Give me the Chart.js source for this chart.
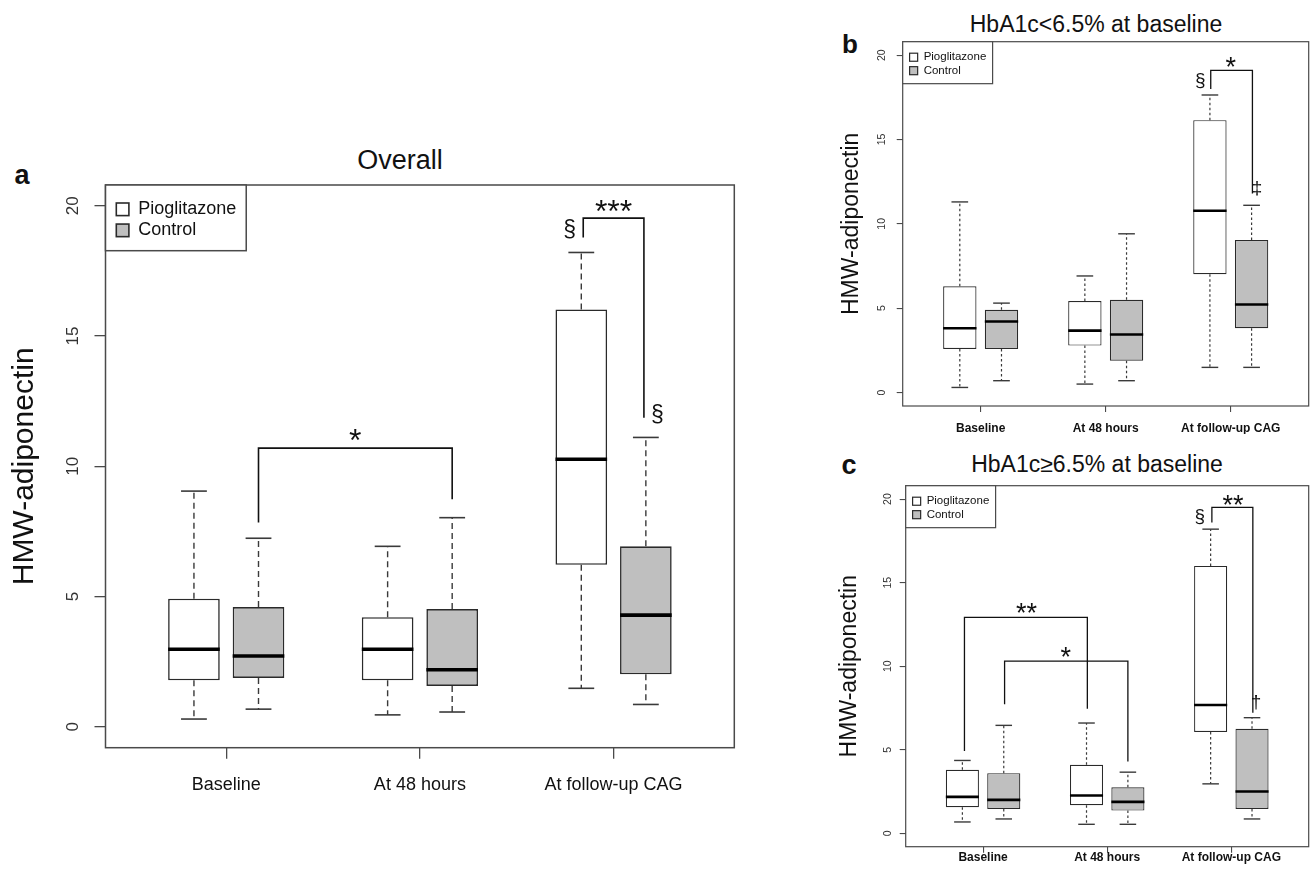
<!DOCTYPE html>
<html>
<head>
<meta charset="utf-8">
<script src="https://cdn.jsdelivr.net/npm/chart.js@4.4.1/dist/chart.umd.min.js"></script>
<style>
  html, body { margin: 0; padding: 0; background: #fff; }
  #figure { position: relative; width: 1310px; height: 877px; overflow: hidden; background: #fff;
            font-family: "Liberation Sans", Arial, Helvetica, sans-serif; color: #111; }
  #figure canvas { position: absolute; }
  .txt { position: absolute; transform: translate(-50%, -50%); line-height: 1; white-space: nowrap; }
  .letter { font-weight: bold; }
</style>
</head>
<body>
<div id="figure">
  <div class="txt letter" style="left:22px;top:175px;font-size:27px">a</div>
  <div class="txt" style="left:400px;top:160px;font-size:27px">Overall</div>
  <canvas id="panelA" width="760" height="680" style="left:0;top:130px"></canvas>

  <div class="txt letter" style="left:850px;top:44px;font-size:26px">b</div>
  <div class="txt" style="left:1096px;top:24px;font-size:23px">HbA1c&lt;6.5% at baseline</div>
  <canvas id="panelB" width="490" height="434" style="left:820px;top:0"></canvas>

  <div class="txt letter" style="left:849px;top:465px;font-size:27px">c</div>
  <div class="txt" style="left:1097px;top:464px;font-size:23px">HbA1c≥6.5% at baseline</div>
  <canvas id="panelC" width="490" height="447" style="left:820px;top:430px"></canvas>
</div>
<script>
// ----------------------------------------------------------------------------
// HMW-adiponectin box plots (overall, HbA1c<6.5 %, HbA1c>=6.5 %)
// ----------------------------------------------------------------------------
// Boxes are floating bars [Q1, Q3] on a linear x scale; whiskers, staples and
// medians come from the same five-number rows via a small inline plugin.

const FONT_FAMILY = '"Liberation Sans", Arial, Helvetica, sans-serif';
Chart.defaults.font.family = FONT_FAMILY;

const CATEGORIES = ["Baseline", "At 48 hours", "At follow-up CAG"];
const GROUP_LABELS = ["Pioglitazone", "Control"];
const PIO_POS = [1, 4, 7];
const CTRL_POS = [2, 5, 8];
const TICK_POS = [1.5, 4.5, 7.5];
const X_RANGE = [-0.37, 9.37];
const Y_RANGE = [-0.8, 20.8];
const Y_TICKS = [0, 5, 10, 15, 20];
const Y_TITLE = "HMW-adiponectin";

// five-number rows: [lower whisker, Q1, median, Q3, upper whisker]
const OVERALL_PIO = [
    [0.30, 1.79, 2.98, 4.92, 9.05],
    [0.46, 1.79, 2.98, 4.21, 6.93],
    [1.48, 6.22, 10.27, 16.02, 18.21],
];
const OVERALL_CTRL = [
    [0.68, 1.88, 2.72, 4.60, 7.24],
    [0.57, 1.57, 2.19, 4.52, 8.03],
    [0.86, 2.02, 4.29, 6.93, 11.11],
];
const LOW_PIO = [
    [0.30, 2.58, 3.81, 6.30, 11.30],
    [0.50, 2.78, 3.67, 5.42, 6.91],
    [1.49, 7.01, 10.78, 16.15, 17.64],
];
const LOW_CTRL = [
    [0.70, 2.58, 4.21, 4.91, 5.30],
    [0.70, 1.89, 3.44, 5.50, 9.41],
    [1.49, 3.81, 5.22, 9.04, 11.10],
];
const HIGH_PIO = [
    [0.68, 1.56, 2.18, 3.80, 4.36],
    [0.54, 1.68, 2.26, 4.10, 6.60],
    [2.96, 6.06, 7.68, 16.00, 18.20],
];
const HIGH_CTRL = [
    [0.86, 1.46, 2.00, 3.60, 6.46],
    [0.54, 1.36, 1.88, 2.76, 3.66],
    [0.86, 1.46, 2.50, 6.26, 6.92],
];

// significance brackets: [left x, right x, bar level, left foot, right foot, label, label x, label y]
const OVERALL_BRACKETS = [
    [2, 5, 10.7, 7.84, 8.74, "*", 3.5, 11.2],
    [7.03, 7.97, 19.53, 18.78, 11.87, "***", 7.5, 20.0],
];
const LOW_BRACKETS = [
    [7.02, 8.02, 19.1, 18.0, 11.8, "*", 7.5, 19.57],
];
const HIGH_BRACKETS = [
    [1.05, 4.02, 12.92, 4.92, 7.46, "**", 2.55, 13.46],
    [2.02, 5.0, 10.3, 7.72, 4.3, "*", 3.5, 10.86],
    [7.03, 8.02, 19.5, 18.6, 7.22, "**", 7.54, 19.96],
];
// free symbols: [x, y, glyph]
const OVERALL_MARKS = [[6.82, 19.1, "§"], [8.18, 12.0, "§"]];
const LOW_MARKS = [[6.77, 18.45, "§"], [8.13, 12.1, "‡"]];
const HIGH_MARKS = [[6.74, 18.9, "§"], [8.1, 7.8, "†"]];

const PIO_FILL = "#ffffff";
const CTRL_FILL = "#bfbfbf";
const BOX_EDGE = "#2a2a2a";
const WHISKER_COLOR = "#3a3a3a";
const MEDIAN_COLOR = "#000000";
const FRAME_COLOR = "#4a4a4a";
const TEXT_COLOR = "#111111";
const TICK_TEXT = "#333333";

const STYLE_BIG = {
    yWidth: 105.5, xHeight: 62.3, padTop: 55, padRight: 25.7,
    tickFont: 17, tickLen: 11, yTickPad: 12, tickWidth: 1.3,
    xLabelFont: 18, xLabelWeight: "normal", xLabelPad: 15.5,
    yTitleFont: 30, yTitlePad: 7, legendFont: 18,
    frameWidth: 1.5, boxBorder: 1.6, medianWidth: 3.6, whiskerWidth: 1.4, dash: [6, 4],
    bracketWidth: 1.6, starFont: 32, markFont: 23,
};
const STYLE_B = {
    yWidth: 82.7, xHeight: 28, padTop: 41.7, padRight: 1.3,
    tickFont: 10.5, tickLen: 6, yTickPad: 9.2, tickWidth: 1.1,
    xLabelFont: 12, xLabelWeight: "bold", xLabelPad: 9.8,
    yTitleFont: 23, yTitlePad: 17.9, legendFont: 11.5,
    frameWidth: 1.2, boxBorder: 1.2, medianWidth: 2.6, whiskerWidth: 1.2, dash: [2.5, 2.5],
    bracketWidth: 1.3, starFont: 27, markFont: 19,
};
const STYLE_C = { ...STYLE_B, yWidth: 85.7, xHeight: 30.3, padTop: 55.7, yTickPad: 5.8, xLabelPad: -2.4, yTitlePad: 16.2 };

function segment(ctx, x1, y1, x2, y2) {
    ctx.beginPath();
    ctx.moveTo(x1, y1);
    ctx.lineTo(x2, y2);
    ctx.stroke();
}

// Put a glyph's ink box (not its em box) centred on (x, y).
function drawCenteredText(ctx, text, x, y) {
    const m = ctx.measureText(text);
    ctx.textAlign = "center";
    ctx.textBaseline = "alphabetic";
    ctx.fillText(text, x, y + (m.actualBoundingBoxAscent - m.actualBoundingBoxDescent) / 2);
}

function frameBoxPlugin(style) {
    return {
        id: "frameBox",
        beforeDatasetsDraw(chart) {
            const { ctx, chartArea: a } = chart;
            ctx.save();
            ctx.strokeStyle = FRAME_COLOR;
            ctx.lineWidth = style.frameWidth;
            ctx.strokeRect(a.left, a.top, a.right - a.left, a.bottom - a.top);
            ctx.restore();
        },
    };
}

function boxWhiskerPlugin(style) {
    return {
        id: "boxWhiskers",
        afterDatasetsDraw(chart) {
            const { ctx } = chart;
            const yScale = chart.scales.y;
            const py = (v) => yScale.getPixelForValue(v);
            ctx.save();
            ctx.lineCap = "butt";
            chart.data.datasets.forEach((dataset, di) => {
                const bars = chart.getDatasetMeta(di).data;
                dataset.stats.forEach(([low, q1, median, q3, high], i) => {
                    const bar = bars[i];
                    const half = bar.width / 2;
                    ctx.strokeStyle = WHISKER_COLOR;
                    ctx.lineWidth = style.whiskerWidth;
                    ctx.setLineDash(style.dash);
                    segment(ctx, bar.x, py(q3), bar.x, py(high));
                    segment(ctx, bar.x, py(q1), bar.x, py(low));
                    ctx.setLineDash([]);
                    ctx.lineWidth = style.whiskerWidth + 0.2;
                    segment(ctx, bar.x - half / 2, py(high), bar.x + half / 2, py(high));
                    segment(ctx, bar.x - half / 2, py(low), bar.x + half / 2, py(low));
                    ctx.strokeStyle = MEDIAN_COLOR;
                    ctx.lineWidth = style.medianWidth;
                    segment(ctx, bar.x - half, py(median), bar.x + half, py(median));
                });
            });
            ctx.restore();
        },
    };
}

// R-style legend sitting inside the top-left corner of the plot frame.
function insetLegendPlugin(style) {
    return {
        id: "insetLegend",
        afterDatasetsDraw(chart) {
            const { ctx, chartArea } = chart;
            const fs = style.legendFont;
            const items = chart.data.datasets;
            ctx.save();
            ctx.font = `${fs}px ${FONT_FAMILY}`;
            const textWidth = Math.max(...items.map((d) => ctx.measureText(d.label).width));
            const left = chartArea.left;
            const top = chartArea.top;
            const width = fs * 1.82 + textWidth + fs * 0.55;
            const height = fs * 3.65;
            ctx.fillStyle = "#fff";
            ctx.fillRect(left, top, width, height);
            ctx.strokeStyle = FRAME_COLOR;
            ctx.lineWidth = style.frameWidth;
            ctx.strokeRect(left, top, width, height);
            const sq = fs * 0.7;
            items.forEach((d, i) => {
                const cy = top + fs * (1.35 + 1.17 * i);
                ctx.fillStyle = d.backgroundColor;
                ctx.fillRect(left + fs * 0.6, cy - sq / 2, sq, sq);
                ctx.strokeStyle = BOX_EDGE;
                ctx.lineWidth = style.boxBorder;
                ctx.strokeRect(left + fs * 0.6, cy - sq / 2, sq, sq);
                ctx.fillStyle = TEXT_COLOR;
                ctx.textAlign = "left";
                ctx.textBaseline = "middle";
                ctx.fillText(d.label, left + fs * 1.82, cy);
            });
            ctx.restore();
        },
    };
}

function significancePlugin(brackets, marks, style) {
    return {
        id: "significance",
        afterDatasetsDraw(chart) {
            const { ctx } = chart;
            const xs = chart.scales.x;
            const ys = chart.scales.y;
            ctx.save();
            ctx.strokeStyle = TEXT_COLOR;
            ctx.fillStyle = TEXT_COLOR;
            ctx.lineWidth = style.bracketWidth;
            brackets.forEach(([x1, x2, level, foot1, foot2, label, lx, ly]) => {
                ctx.beginPath();
                ctx.moveTo(xs.getPixelForValue(x1), ys.getPixelForValue(foot1));
                ctx.lineTo(xs.getPixelForValue(x1), ys.getPixelForValue(level));
                ctx.lineTo(xs.getPixelForValue(x2), ys.getPixelForValue(level));
                ctx.lineTo(xs.getPixelForValue(x2), ys.getPixelForValue(foot2));
                ctx.stroke();
                ctx.font = `${style.starFont}px ${FONT_FAMILY}`;
                drawCenteredText(ctx, label, xs.getPixelForValue(lx), ys.getPixelForValue(ly));
            });
            ctx.font = `${style.markFont}px ${FONT_FAMILY}`;
            marks.forEach(([mx, my, glyph]) => {
                drawCenteredText(ctx, glyph, xs.getPixelForValue(mx), ys.getPixelForValue(my));
            });
            ctx.restore();
        },
    };
}

function buildPanelConfig(pio, ctrl, brackets, marks, style) {
    const boxes = (positions, rows) => positions.map((x, i) => ({ x, y: [rows[i][1], rows[i][3]] }));
    const datasets = [
        { label: GROUP_LABELS[0], data: boxes(PIO_POS, pio), stats: pio, backgroundColor: PIO_FILL },
        { label: GROUP_LABELS[1], data: boxes(CTRL_POS, ctrl), stats: ctrl, backgroundColor: CTRL_FILL },
    ].map((d) => ({
        ...d,
        borderColor: BOX_EDGE,
        borderWidth: style.boxBorder,
        borderSkipped: false,
        inflateAmount: 0,
        grouped: false,
        categoryPercentage: 1,
        barPercentage: 0.8,
    }));

    const axisGrid = {
        display: true,
        drawOnChartArea: false,
        drawTicks: true,
        tickLength: style.tickLen,
        color: FRAME_COLOR,
        lineWidth: style.tickWidth,
        offset: false,
    };

    return {
        type: "bar",
        data: { datasets },
        options: {
            responsive: false,
            animation: false,
            events: [],
            layout: { padding: { top: style.padTop, right: style.padRight, left: 0, bottom: 0 } },
            scales: {
                x: {
                    type: "linear",
                    offset: false,
                    min: X_RANGE[0],
                    max: X_RANGE[1],
                    afterBuildTicks: (axis) => { axis.ticks = TICK_POS.map((value) => ({ value })); },
                    afterFit: (axis) => { axis.height = style.xHeight; },
                    grid: axisGrid,
                    border: { display: false },
                    ticks: {
                        autoSkip: false,
                        maxRotation: 0,
                        callback: (value, index) => CATEGORIES[index],
                        font: { size: style.xLabelFont, weight: style.xLabelWeight },
                        color: TEXT_COLOR,
                        padding: style.xLabelPad,
                    },
                },
                y: {
                    type: "linear",
                    min: Y_RANGE[0],
                    max: Y_RANGE[1],
                    afterBuildTicks: (axis) => { axis.ticks = Y_TICKS.map((value) => ({ value })); },
                    afterFit: (axis) => { axis.width = style.yWidth; },
                    grid: axisGrid,
                    border: { display: false },
                    ticks: {
                        minRotation: 90,
                        maxRotation: 90,
                        crossAlign: "center",
                        padding: style.yTickPad,
                        font: { size: style.tickFont },
                        color: TICK_TEXT,
                    },
                    title: {
                        display: true,
                        text: Y_TITLE,
                        font: { size: style.yTitleFont },
                        color: TEXT_COLOR,
                        padding: { top: style.yTitlePad, bottom: 0 },
                    },
                },
            },
            plugins: { legend: { display: false }, tooltip: { enabled: false } },
        },
        plugins: [
            frameBoxPlugin(style),
            boxWhiskerPlugin(style),
            insetLegendPlugin(style),
            significancePlugin(brackets, marks, style),
        ],
    };
}

new Chart(document.getElementById("panelA"),
    buildPanelConfig(OVERALL_PIO, OVERALL_CTRL, OVERALL_BRACKETS, OVERALL_MARKS, STYLE_BIG));
new Chart(document.getElementById("panelB"),
    buildPanelConfig(LOW_PIO, LOW_CTRL, LOW_BRACKETS, LOW_MARKS, STYLE_B));
new Chart(document.getElementById("panelC"),
    buildPanelConfig(HIGH_PIO, HIGH_CTRL, HIGH_BRACKETS, HIGH_MARKS, STYLE_C));
</script>
</body>
</html>
